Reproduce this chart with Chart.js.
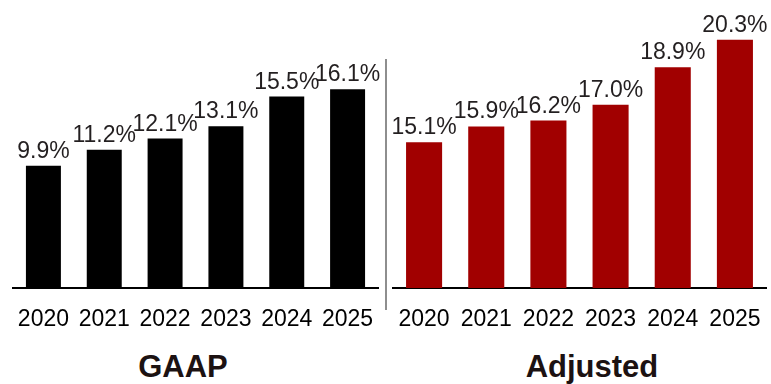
<!DOCTYPE html>
<html>
<head>
<meta charset="utf-8">
<script src="https://cdn.jsdelivr.net/npm/chart.js@4/dist/chart.umd.min.js"></script>
<style>
  body { margin: 0; background: #fff; }
  #wrap { position: relative; width: 771px; height: 384px; overflow: hidden; font-family: "Liberation Sans", Arial, sans-serif; }
  #gaapChart { position: absolute; left: 0; top: 0; }
  #adjChart { position: absolute; left: 388px; top: 0; }
  .divider { position: absolute; left: 385px; top: 59px; width: 2px; height: 251px; background: #8e8e8e; }
  .caption { position: absolute; top: 349px; font-weight: bold; font-size: 31px; line-height: 36px; color: #1c1212; transform: translateX(-50%); white-space: nowrap; }
</style>
</head>
<body>
<div id="wrap">
  <canvas id="gaapChart" width="388" height="340"></canvas>
  <canvas id="adjChart" width="383" height="340"></canvas>
  <div class="divider"></div>
  <div class="caption" style="left:183px">GAAP</div>
  <div class="caption" style="left:592px">Adjusted</div>
</div>
<script>
// margin per year, in percent
var years = ['2020', '2021', '2022', '2023', '2024', '2025'];
var gaapValues = [9.9, 11.2, 12.1, 13.1, 15.5, 16.1];
var adjustedValues = [15.1, 15.9, 16.2, 17.0, 18.9, 20.3];

// writes "x.x%" above each bar
var valueLabels = {
  id: 'valueLabels',
  afterDatasetsDraw: function (chart) {
    var ctx = chart.ctx;
    var meta = chart.getDatasetMeta(0);
    var data = chart.data.datasets[0].data;
    ctx.save();
    ctx.font = '23px "Liberation Sans", Arial, sans-serif';
    ctx.fillStyle = '#231f20';
    ctx.textAlign = 'center';
    ctx.textBaseline = 'alphabetic';
    meta.data.forEach(function (bar, i) {
      ctx.fillText(data[i].toFixed(1) + '%', bar.x, bar.y - 8);
    });
    ctx.restore();
  }
};

function makeChart(id, values, color, yMin, yMax, padLeft, padRight, barPct) {
  return new Chart(document.getElementById(id), {
    type: 'bar',
    data: {
      labels: years,
      datasets: [{
        data: values,
        backgroundColor: color,
        borderWidth: 0,
        categoryPercentage: 1,
        barPercentage: barPct
      }]
    },
    options: {
      responsive: false,
      animation: false,
      layout: { padding: { left: padLeft, right: padRight, top: 20, bottom: 0 } },
      plugins: { legend: { display: false }, tooltip: { enabled: false } },
      scales: {
        x: {
          grid: { display: false },
          border: { display: true, color: '#000', width: 2 },
          ticks: {
            color: '#000',
            padding: 10,
            maxRotation: 0,
            autoSkip: false,
            font: { family: '"Liberation Sans", Arial, sans-serif', size: 23 }
          },
          afterFit: function (scale) { scale.height = 52; }
        },
        y: { display: false, min: yMin, max: yMax }
      }
    },
    plugins: [valueLabels]
  });
}

makeChart('gaapChart', gaapValues, '#000000', 0, 21.7, 13, 10, 0.575);
makeChart('adjChart', adjustedValues, '#a10000', 7.7, 21.3, 5, 5, 0.58);
</script>
</body>
</html>
